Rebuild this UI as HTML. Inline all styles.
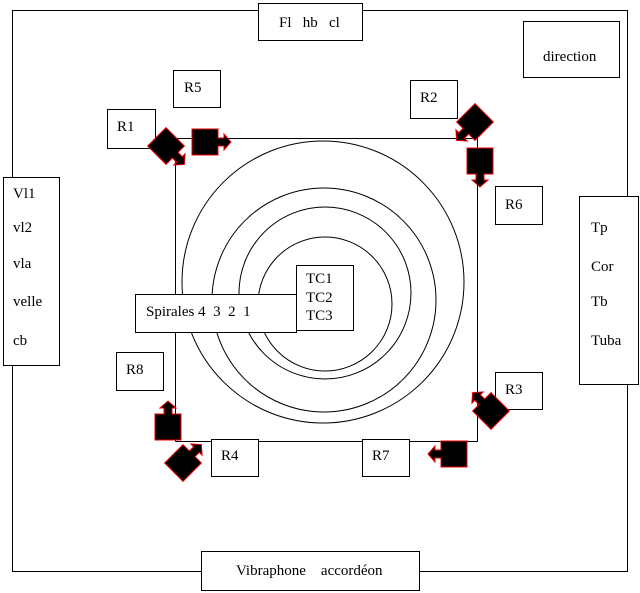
<!DOCTYPE html>
<html><head><style>
body{margin:0;background:#fff}
svg{display:block}
text{font-family:"Liberation Serif",serif;font-size:15px;fill:#000}
</style></head><body>
<svg width="640" height="593" xmlns="http://www.w3.org/2000/svg">
<defs>
<g id="spk">
<path d="M-13 -13 H13 V-4 H19 V-8 L26 0 L19 8 V4 H13 V13 H-13 Z"/>
</g>
</defs>
<g fill="none" stroke="#000" stroke-width="1">
<rect x="12.5" y="10.5" width="615" height="561"/>
<line x1="175.5" y1="138.5" x2="477.5" y2="138.5"/>
<line x1="477.5" y1="138.5" x2="477.5" y2="441.5"/>
<line x1="175.5" y1="441.5" x2="477.5" y2="441.5"/>
<line x1="175.5" y1="138.5" x2="175.5" y2="441.5"/>
<circle cx="323" cy="282" r="141"/>
<circle cx="324" cy="300" r="112"/>
<circle cx="325" cy="293" r="86"/>
<circle cx="325" cy="304" r="67"/>
</g>
<g fill="#fff" stroke="#000">
<rect x="258.5" y="3.5" width="104" height="37"/>
<rect x="523.5" y="21.5" width="96" height="56"/>
<rect x="3.5" y="177.5" width="56" height="188"/>
<rect x="579.5" y="196.5" width="59" height="188"/>
<rect x="201.5" y="551.5" width="218" height="39"/>
<rect x="173.5" y="70.5" width="47" height="37"/>
<rect x="107.5" y="109.5" width="48" height="39"/>
<rect x="410.5" y="80.5" width="47" height="38"/>
<rect x="495.5" y="186.5" width="47" height="38"/>
<rect x="495.5" y="372.5" width="47" height="37"/>
<rect x="116.5" y="352.5" width="47" height="38"/>
<rect x="211.5" y="439.5" width="47" height="37"/>
<rect x="362.5" y="439.5" width="47" height="37"/>
<rect x="296.5" y="265.5" width="57" height="65"/>
<rect x="135.5" y="294.5" width="161" height="38"/>
</g>
<g fill="#000" stroke="#e00" stroke-width="1">
<use href="#spk" transform="translate(166 146) rotate(45)"/>
<use href="#spk" transform="translate(205 142) rotate(0)"/>
<use href="#spk" transform="translate(475 122) rotate(135)"/>
<use href="#spk" transform="translate(480 161) rotate(90)"/>
<use href="#spk" transform="translate(491 411) rotate(225)"/>
<use href="#spk" transform="translate(454 454) rotate(180)"/>
<use href="#spk" transform="translate(168 427) rotate(-90)"/>
<use href="#spk" transform="translate(183 463) rotate(-45)"/>
</g>
<text x="279" y="27">Fl&#160;&#160; hb&#160;&#160; cl</text>
<text x="543" y="61">direction</text>
<text x="13" y="198">Vl1</text>
<text x="13" y="232">vl2</text>
<text x="13" y="268">vla</text>
<text x="13" y="306">velle</text>
<text x="13" y="345">cb</text>
<text x="591" y="232">Tp</text>
<text x="591" y="271">Cor</text>
<text x="591" y="306">Tb</text>
<text x="591" y="345">Tuba</text>
<text x="236" y="575">Vibraphone&#160;&#160;&#160; accordéon</text>
<text x="184" y="92">R5</text>
<text x="117" y="131">R1</text>
<text x="420" y="102">R2</text>
<text x="505" y="209">R6</text>
<text x="505" y="394">R3</text>
<text x="126" y="374">R8</text>
<text x="221" y="460">R4</text>
<text x="372" y="460">R7</text>
<text x="306" y="283">TC1</text>
<text x="306" y="302">TC2</text>
<text x="306" y="320">TC3</text>
<text x="146" y="316">Spirales 4&#160; 3&#160; 2&#160; 1</text>
</svg>
</body></html>
